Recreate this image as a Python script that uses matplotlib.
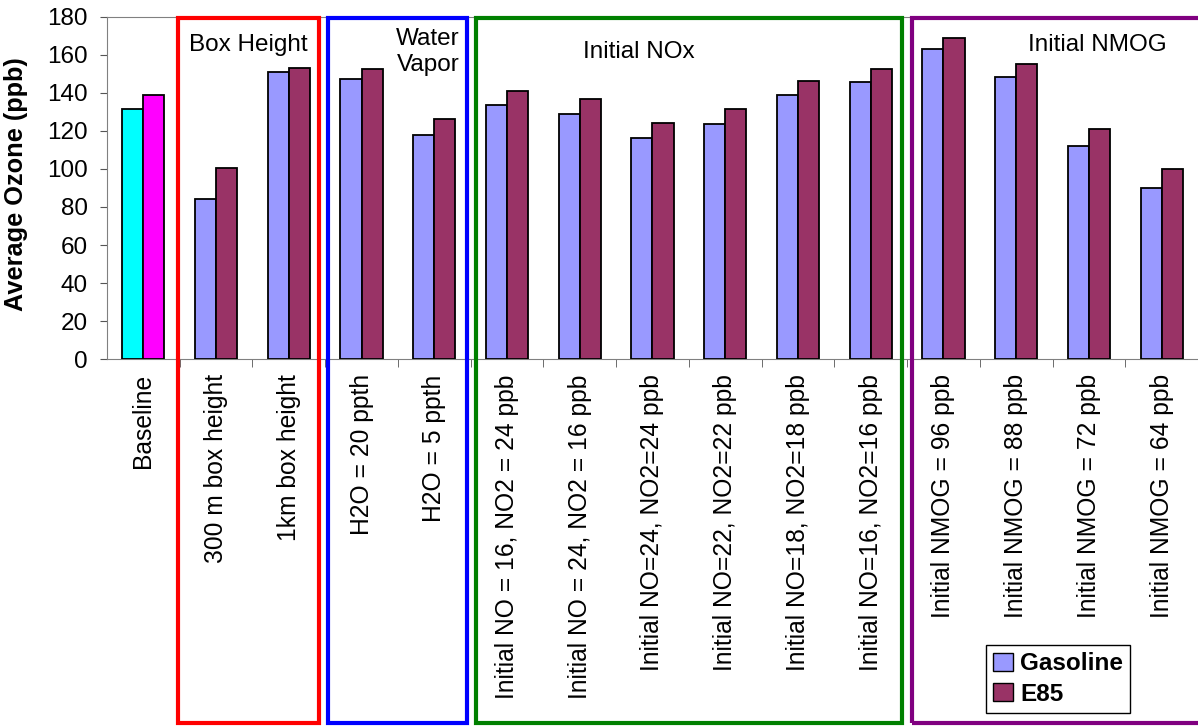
import matplotlib
matplotlib.use("Agg")
import matplotlib.pyplot as plt
import matplotlib.transforms as mtransforms
from matplotlib.patches import Patch, Rectangle
import numpy as np

plt.rcParams['font.family'] = ['Liberation Sans', 'DejaVu Sans']

categories = ["Baseline", "300 m box height", "1km box height",
              "H2O = 20 ppth", "H2O = 5 ppth",
              "Initial NO = 16, NO2 = 24 ppb", "Initial NO = 24, NO2 = 16 ppb",
              "Initial NO=24, NO2=24 ppb", "Initial NO=22, NO2=22 ppb",
              "Initial NO=18, NO2=18 ppb", "Initial NO=16, NO2=16 ppb",
              "Initial NMOG = 96 ppb", "Initial NMOG = 88 ppb",
              "Initial NMOG = 72 ppb", "Initial NMOG = 64 ppb"]
gasoline = [131.6, 84.2, 151.1, 147.4, 117.7, 133.9, 128.8, 116.4, 123.7,
            138.7, 145.7, 163.4, 148.3, 112.2, 89.9]
e85 = [138.9, 100.3, 152.9, 152.5, 126.2, 141.3, 136.7, 124.2, 131.5,
       146.4, 152.5, 168.7, 155.0, 120.8, 100.1]

# sensitivity groups: label, first and last category index, frame colour
group_labels = ["Box Height", "Water\nVapor", "Initial NOx", "Initial NMOG"]
group_first = [1, 3, 5, 11]
group_last = [2, 4, 10, 14]
group_colors = ["red", "blue", "green", "purple"]

gas_color = "#9999ff"
e85_color = "#993366"

fig = plt.figure(figsize=(11.98, 7.26), dpi=100)
ax = fig.add_axes([0.0893, 0.5055, 0.9107, 0.4711])

x = np.arange(len(categories))
w = 0.29
gas_cols = ["#00ffff"] + [gas_color] * (len(x) - 1)
e85_cols = ["#ff00ff"] + [e85_color] * (len(x) - 1)
ax.bar(x - w / 2, gasoline, w, color=gas_cols, edgecolor="black", linewidth=1.3, zorder=3)
ax.bar(x + w / 2, e85, w, color=e85_cols, edgecolor="black", linewidth=1.3, zorder=3)

ax.set_xlim(-0.5, len(x) - 0.5)
ax.set_ylim(0, 180)
ax.set_yticks(np.arange(0, 181, 20))
ax.set_xticks(x)
ax.set_xticklabels(categories, rotation=90, va="top", ha="center", fontsize=17.7)
ax.set_xticks(np.arange(0.5, len(x) - 0.5, 1), minor=True)
ax.tick_params(axis="x", which="major", length=0, pad=11)
ax.tick_params(axis="x", which="minor", length=6, color="#555555")
ax.tick_params(axis="y", labelsize=17.5, length=5, color="#555555", pad=9)
ax.set_ylabel("Average Ozone (ppb)", fontsize=18.3, fontweight="bold")
ax.yaxis.set_label_coords(-0.072, 0.51)
for s in ["left", "bottom", "top"]:
    ax.spines[s].set_color("#808080")
ax.spines["right"].set_visible(False)

# coloured frames around each group, x in data units, y in axes fraction
trans = mtransforms.blended_transform_factory(ax.transData, ax.transAxes)
insets = [(-0.02, 0.08), (0.04, 0.05), (0.07, 0.07), (0.07, -0.1)]
for i0, i1, col, (li, ri) in zip(group_first, group_last, group_colors, insets):
    left = i0 - 0.5 + li
    right = i1 + 0.5 - ri
    ax.add_patch(Rectangle((left, -1.063), right - left, 2.061, transform=trans,
                           fill=False, edgecolor=col, linewidth=3, clip_on=False, zorder=5))

ax.text(1.44, 0.918, group_labels[0], transform=trans, ha="center", va="center", fontsize=17.5)
ax.text(4.35, 0.898, group_labels[1], transform=trans, ha="right", va="center", fontsize=17.5)
ax.text(6.81, 0.898, group_labels[2], transform=trans, ha="center", va="center", fontsize=17.5)
ax.text(13.12, 0.918, group_labels[3], transform=trans, ha="center", va="center", fontsize=17.5)

handles = [Patch(facecolor=gas_color, edgecolor="black", label="Gasoline"),
           Patch(facecolor=e85_color, edgecolor="black", label="E85")]
fig.legend(handles=handles, loc="lower left", bbox_to_anchor=(0.823, 0.018),
           bbox_transform=fig.transFigure, fancybox=False, edgecolor="black",
           prop={"weight": "bold", "size": 17.5}, handlelength=0.8, handleheight=0.8,
           handletextpad=0.3, borderpad=0.3, labelspacing=0.3, borderaxespad=0,
           framealpha=1)

fig.savefig("out.png", dpi=100)
